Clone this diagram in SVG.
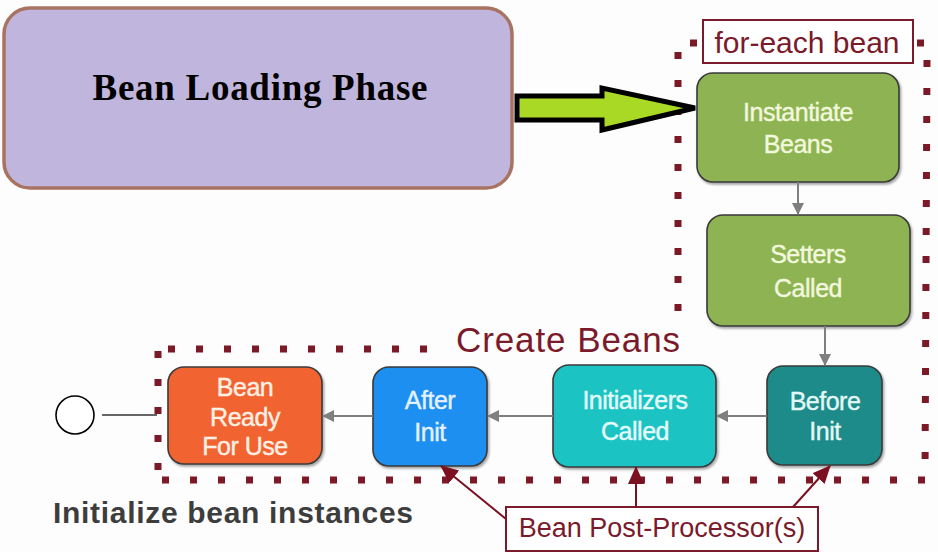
<svg xmlns="http://www.w3.org/2000/svg" width="938" height="552" viewBox="0 0 938 552">
<defs>
<marker id="ga" markerWidth="12" markerHeight="12" refX="11" refY="6" orient="auto" markerUnits="userSpaceOnUse">
<path d="M0,0 L12,6 L0,12 Z" fill="#7f7f7f"/>
</marker>
<marker id="ra" markerWidth="18" markerHeight="16" refX="17" refY="8" orient="auto" markerUnits="userSpaceOnUse">
<path d="M0,0 L18,8 L0,16 Z" fill="#7a1020"/>
</marker>
<filter id="sh" x="-10%" y="-10%" width="130%" height="130%">
<feDropShadow dx="1.5" dy="2" stdDeviation="1.2" flood-color="#000" flood-opacity="0.35"/>
</filter>
</defs>
<style>
.node{stroke:#3a3a3a;stroke-width:1.6;filter:url(#sh)}
.nt{font-family:"Liberation Sans",Arial,sans-serif;font-size:25px;text-anchor:middle;letter-spacing:-0.5px;stroke-width:0.4px}
.dot{fill:none;stroke:#7b1a26;stroke-width:7;stroke-dasharray:7 21}
.conn{stroke:#7f7f7f;stroke-width:2;fill:none}
.rconn{stroke:#7a1020;stroke-width:2;fill:none}
.lbl{font-family:"Liberation Sans",Arial,sans-serif;fill:#7a1a2a}
</style>
<rect width="938" height="552" fill="#fdfdfd"/>

<g id="frames">
<line class="dot" x1="678" y1="52" x2="678" y2="330"/>
<line class="dot" x1="690" y1="43" x2="700" y2="43"/>
<line class="dot" x1="917" y1="43" x2="926" y2="43"/>
<line class="dot" x1="927" y1="60" x2="925" y2="480"/>
<line class="dot" x1="925" y1="480" x2="155" y2="480"/>
<line class="dot" x1="158" y1="470" x2="158" y2="348"/>
<line class="dot" x1="168" y1="349" x2="445" y2="349"/>
</g>

<g id="loading">
<rect x="4" y="8" width="508" height="180" rx="26" fill="#c0b5dc" stroke="#a97362" stroke-width="3.5"/>
<text x="260" y="100" font-family="'Liberation Serif','Times New Roman',serif" font-size="37" font-weight="bold" text-anchor="middle" fill="#000" textLength="335">Bean Loading Phase</text>
</g>

<g id="bigarrow">
<path d="M517,96 L602,96 L602,88 L695,108 L602,130 L602,120 L517,120 Z" fill="#a9d825" stroke="#000" stroke-width="5" stroke-linejoin="miter"/>
</g>

<g id="foreach-label">
<rect x="703" y="20" width="210" height="43" fill="#fff" stroke="#7a1a2a" stroke-width="2"/>
<text class="lbl" x="807" y="53" font-size="30" text-anchor="middle">for-each bean</text>
</g>

<g id="create-label">
<text class="lbl" x="456" y="352" font-size="35" textLength="224">Create Beans</text>
</g>

<g id="instantiate">
<rect class="node" x="697" y="73" width="202" height="109" rx="16" fill="#8db352"/>
<text class="nt" x="798" y="121" fill="#f2f8dc" stroke="#f2f8dc">Instantiate</text>
<text class="nt" x="798" y="153" fill="#f2f8dc" stroke="#f2f8dc">Beans</text>
</g>

<g id="setters">
<rect class="node" x="707" y="215" width="203" height="111" rx="16" fill="#8db352"/>
<text class="nt" x="808" y="263" fill="#f2f8dc" stroke="#f2f8dc">Setters</text>
<text class="nt" x="808" y="297" fill="#f2f8dc" stroke="#f2f8dc">Called</text>
</g>

<g id="before">
<rect class="node" x="767" y="366" width="115" height="99" rx="16" fill="#1b8b89"/>
<text class="nt" x="825" y="410" fill="#e2f8f6" stroke="#e2f8f6">Before</text>
<text class="nt" x="825" y="440" fill="#e2f8f6" stroke="#e2f8f6">Init</text>
</g>

<g id="initializers">
<rect class="node" x="553" y="365" width="163" height="102" rx="16" fill="#1fc3c3"/>
<text class="nt" x="635" y="409" fill="#e4fcfc" stroke="#e4fcfc">Initializers</text>
<text class="nt" x="635" y="440" fill="#e4fcfc" stroke="#e4fcfc">Called</text>
</g>

<g id="after">
<rect class="node" x="373" y="367" width="114" height="99" rx="16" fill="#1c8ff0"/>
<text class="nt" x="430" y="409" fill="#e4f2ff" stroke="#e4f2ff">After</text>
<text class="nt" x="430" y="441" fill="#e4f2ff" stroke="#e4f2ff">Init</text>
</g>

<g id="ready">
<rect class="node" x="168" y="367" width="154" height="97" rx="16" fill="#f26431"/>
<text class="nt" x="245" y="396" fill="#fff0e4" stroke="#fff0e4">Bean</text>
<text class="nt" x="245" y="426" fill="#fff0e4" stroke="#fff0e4">Ready</text>
<text class="nt" x="245" y="455" fill="#fff0e4" stroke="#fff0e4">For Use</text>
</g>

<g id="end">
<circle cx="75" cy="415" r="19" fill="#fff" stroke="#000" stroke-width="1.6"/>
</g>

<g id="postproc">
<rect x="506" y="507" width="312" height="44" fill="#fff" stroke="#7a1a2a" stroke-width="2"/>
<text class="lbl" x="662" y="537" font-size="27" text-anchor="middle">Bean Post-Processor(s)</text>
</g>

<g id="initlabel">
<text x="53" y="523" font-family="'Liberation Sans',Arial,sans-serif" font-size="30" font-weight="bold" fill="#3d3d3d" textLength="360">Initialize bean instances</text>
</g>

<g id="connectors">
<line class="conn" x1="798" y1="182" x2="798" y2="214" marker-end="url(#ga)"/>
<line class="conn" x1="825" y1="326" x2="825" y2="365" marker-end="url(#ga)"/>
<line class="conn" x1="767" y1="416" x2="717" y2="416" marker-end="url(#ga)"/>
<line class="conn" x1="553" y1="416" x2="488" y2="416" marker-end="url(#ga)"/>
<line class="conn" x1="373" y1="416" x2="323" y2="416" marker-end="url(#ga)"/>
<line x1="102" y1="415" x2="157" y2="415" stroke="#333" stroke-width="1.3"/>
<line class="rconn" x1="506" y1="519" x2="441" y2="466" marker-end="url(#ra)"/>
<line class="rconn" x1="636" y1="507" x2="636" y2="467" marker-end="url(#ra)"/>
<line class="rconn" x1="793" y1="507" x2="830" y2="466" marker-end="url(#ra)"/>
</g>
</svg>
